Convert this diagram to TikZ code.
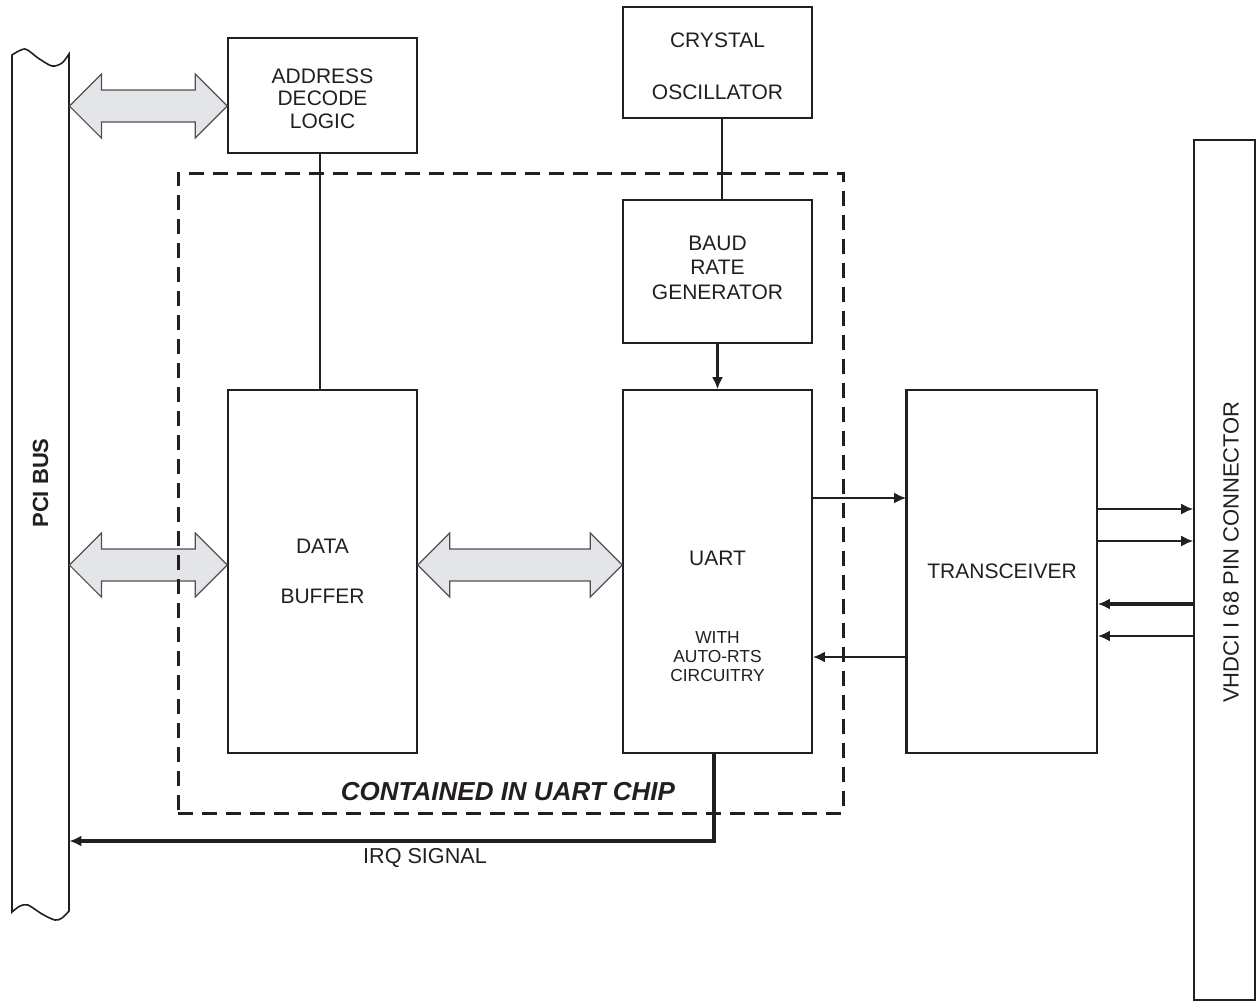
\documentclass[tikz,border=0pt]{standalone}
\usepackage{graphicx}
\usepackage{fontspec}
\setmainfont{Liberation Sans}
\usetikzlibrary{positioning,calc,arrows.meta}
\definecolor{ink}{RGB}{35,31,32}
\definecolor{busfill}{RGB}{228,229,233}
\definecolor{busedge}{RGB}{80,80,80}
\newcommand{\smalltxt}{\fontsize{8.7}{9.75}\selectfont}
\tikzset{%
  block/.style = {rectangle,draw=ink,line width=0.8pt,inner sep=0pt,
        minimum width=94.5pt,align=center},
  sigarrow/.style = {draw=ink,line width=1.3pt,-{Latex[length=6pt,width=5.5pt]}},
  busarrow/.style = {draw=busedge,fill=busfill,line width=0.6pt,line join=miter},
  chipline/.style = {draw=ink,line width=1.5pt,dash pattern=on 7.5pt off 4.5pt}
}
% wide two-headed bus arrow between two points at the same height
\newcommand{\dblbus}[2]{%
  \path[busarrow] let \p1=(#1), \p2=(#2) in
    (\x1,\y1) -- ++(16pt,16pt) -- ++(0,-8pt) -- (\x2-16pt,\y2+8pt) -- ++(0,8pt)
    -- (\x2,\y2) -- ++(-16pt,-16pt) -- ++(0,8pt) -- (\x1+16pt,\y1-8pt)
    -- ++(0,-8pt) -- cycle;}

\begin{document}
\begin{tikzpicture}[x=0.5pt,y=-0.5pt,
    every node/.style={text=ink,font=\fontsize{10.5}{11.25}\selectfont}]
\useasboundingbox (0,0) rectangle (1256,1002);

% PCI bus with torn ends
\draw[draw=ink,line width=0.8pt]
  plot[smooth] coordinates {(12,55) (25,49) (38,58) (52,66) (62,63) (69,54)}
  -- plot[smooth] coordinates {(69,911) (62,918) (55,920) (42,914) (28,905) (20,906) (12,912)}
  -- cycle;
\node[minimum width=28.5pt,minimum height=429pt,inner sep=0pt] (pcibus) at (40.5,483)
  {\rotatebox{90}{\fontsize{11}{13}\selectfont\bfseries PCI BUS}};

% blocks
\node[block,minimum height=57.5pt,
  label={[align=center,yshift=-1.5pt]center:ADDRESS\\DECODE\\LOGIC}] (addr) at (322.5,95.5) {};
\node[block,minimum height=55.5pt,
  label={[align=center,yshift=-2pt]center:CRYSTAL\\[15pt]OSCILLATOR}] (crystal) at (717.5,62.5) {};
\node[block,minimum height=71.5pt,
  label={[align=center,yshift=2pt]center:BAUD\\[1pt]RATE\\[1pt]GENERATOR}] (baud) at (717.5,271.5) {};
\node[block,minimum height=181.5pt] (buffer) at (322.5,571.5) {DATA\\[13.5pt]BUFFER};
\node[block,minimum height=181.5pt,
  label={[align=center,yshift=-22.5pt]center:UART\\[28pt]\smalltxt WITH\\[-1.75pt]\smalltxt AUTO-RTS\\[-1.75pt]\smalltxt CIRCUITRY}]
  (uart) at (717.5,571.5) {};
\node[block,minimum width=95pt,minimum height=181.5pt] (xcvr) at (1002,571.5) {TRANSCEIVER};
\draw[draw=ink,line width=1.5pt] (xcvr.north west) -- (xcvr.south west);
\node[block,minimum width=30.5pt,minimum height=430pt,
  label={[xshift=3.25pt,yshift=9pt,rotate=90,font=\fontsize{11}{13}\selectfont]center:VHDCI I 68 PIN CONNECTOR}]
  (conn) at (1224.5,570) {};

% bus arrows
\dblbus{pcibus.east |- 0,106}{addr.west |- 0,106}
\dblbus{pcibus.east |- 0,565}{buffer.west |- 0,565}
\dblbus{buffer.east |- 0,565}{uart.west |- 0,565}

% chip outline
\node[chipline,rectangle,minimum width=332.5pt,minimum height=320pt] (chip) at (510.5,493) {};
\node[font=\fontsize{13}{15}\selectfont\bfseries\itshape] (chiptext) at (508,792) {CONTAINED IN UART CHIP};

% signals
\draw[draw=ink,line width=1pt] ([xshift=-1.25pt]addr.south) -- ([xshift=-1.25pt]buffer.north);
\draw[draw=ink,line width=1.1pt] ([xshift=2.25pt]crystal.south) -- ([xshift=2.25pt]baud.north);
\draw[sigarrow,line width=1.8pt] (baud.south) -- (uart.north);
\draw[sigarrow] (uart.east |- 0,498) -- (xcvr.west |- 0,498);
\draw[sigarrow] (xcvr.west |- 0,657) -- (uart.east |- 0,657);
\foreach \yy in {509,541}
  \draw[sigarrow,line width=1pt] (xcvr.east |- 0,\yy) -- (conn.west |- 0,\yy);
\draw[sigarrow,line width=1.7pt] (conn.west |- 0,604) -- (xcvr.east |- 0,604);
\draw[sigarrow,line width=1.2pt] (conn.west |- 0,636) -- (xcvr.east |- 0,636);
\draw[sigarrow,line width=1.6pt] ([xshift=-1.75pt]uart.south) |- (pcibus.east |- 0,841);
\node[font=\fontsize{10.8}{13}\selectfont] (irqtext) at (425,858) {IRQ SIGNAL};
\end{tikzpicture}
\end{document}
